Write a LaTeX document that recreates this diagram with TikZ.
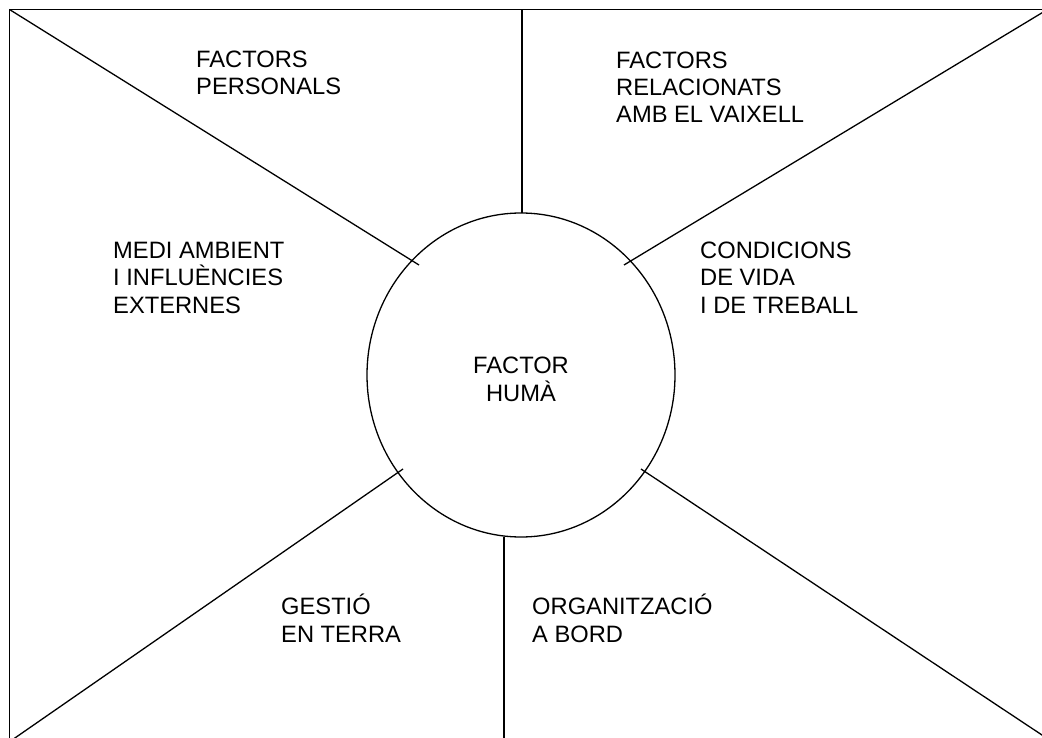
\documentclass[tikz,border=0pt]{standalone}
\usepackage{fontspec}
\setmainfont{Liberation Sans}
\usetikzlibrary{shapes.geometric}
\begin{document}
\begin{tikzpicture}[x=1pt,y=-1pt,
  frame/.style={line width=1.8pt},
  divider/.style={line width=1.3pt},
  lbl/.style={anchor=base west, align=left, inner sep=0pt, font=\fontsize{23.7}{27.3}\selectfont},
]
\useasboundingbox (0,0) rectangle (1042,738);
% frame
\coordinate (tl) at (9.5,9.5);
\coordinate (tr) at (1050,9.5);
\coordinate (bl) at (9.5,745);
\draw[frame] (bl) -- (tl) -- (tr);
% central ellipse
\node[draw, ellipse, divider, minimum width=308pt, minimum height=324pt, inner sep=0pt] (hum) at (521,375) {};
% divider ends
\coordinate (pTL) at (419,265);
\coordinate (eTR) at (1045,11);
\coordinate (pTR) at (624,265);
\coordinate (eBL) at (12,740);
\coordinate (pBL) at (403,469);
\coordinate (pBR) at (641,469);
\coordinate (eBR) at (1045,737);
\coordinate (tv1) at (522,9.5);
\coordinate (tv2) at (522,213);
\coordinate (bv1) at (504,537);
\coordinate (bv2) at (504,745);
\draw[divider] (tl) -- (pTL);
\draw[divider] (eTR) -- (pTR);
\draw[divider] (eBL) -- (pBL);
\draw[divider] (pBR) -- (eBR);
\draw[divider] (tv1) -- (tv2);
\draw[divider] (bv1) -- (bv2);
% labels (anchored at the baseline of their last line)
\node[lbl] (personals) at (196,95) {FACTORS\\PERSONALS};
\node[lbl] (vaixell) at (616,123) {FACTORS\\RELACIONATS\\AMB EL VAIXELL};
\node[lbl] (medi) at (113,313) {MEDI AMBIENT\\I INFLUÈNCIES\\EXTERNES};
\node[lbl] (condicions) at (700,313) {CONDICIONS\\DE VIDA\\I DE TREBALL};
\node[lbl, anchor=base, align=center] (humtext) at (521,401) {FACTOR\\HUMÀ};
\node[lbl] (gestio) at (281,642) {GESTIÓ\\EN TERRA};
\node[lbl] (organitzacio) at (532,642) {ORGANITZACIÓ\\A BORD};
\end{tikzpicture}
\end{document}
